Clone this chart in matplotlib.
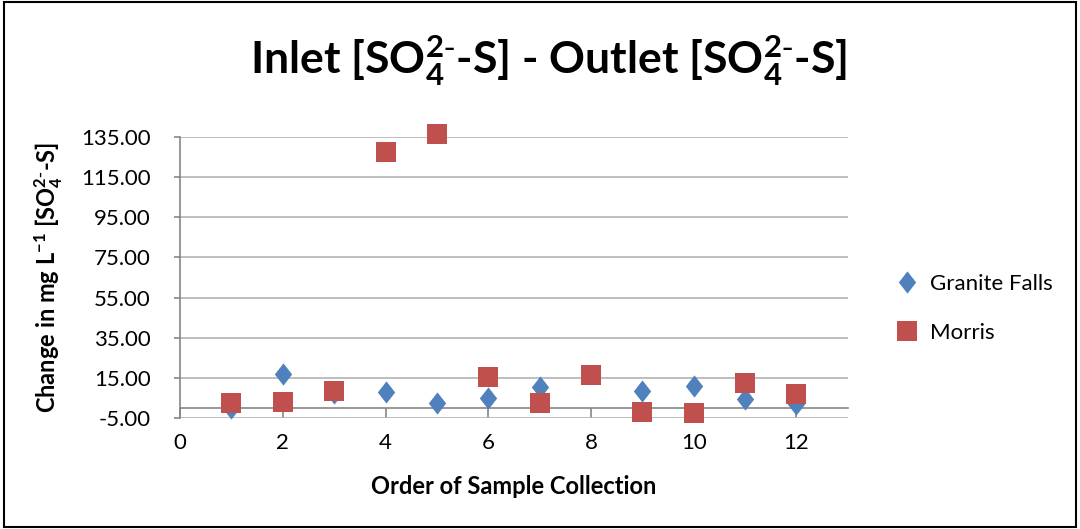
import numpy as np
import matplotlib.pyplot as plt
from matplotlib.patches import Rectangle

plt.rcParams['font.family'] = ['Lato', 'DejaVu Sans']
plt.rcParams['mathtext.default'] = 'regular'

# --- дані: зміна концентрації по порядку відбору проб ---
order = np.arange(1, 13)
granite_falls = np.array([0.0, 17.0, 7.5, 8.0, 2.6, 4.8, 10.6, np.nan, 8.6, 11.1, 4.3, 2.0])
morris = np.array([2.3, 3.0, 8.6, 127.5, 136.5, 15.6, 2.3, 16.4, -2.2, -2.7, 12.6, 6.8])

y_ticks = np.arange(-5, 136, 20)
x_ticks = np.arange(0, 13, 2)

blue = '#4f81bd'
red = '#c0504d'
axis_gray = '#868686'
grid_gray = '#b3b3b3'

ion = r'SO$_4^{2\text{-}}$-S'

fig = plt.figure(figsize=(10.8, 5.29), dpi=100)
ax = fig.add_axes([0.1667, 0.2098, 0.785 - 0.1667, 0.741 - 0.2098])

# ромб трохи витягнутий по вертикалі
diamond = [(0, 1), (0.78, 0), (0, -1), (-0.78, 0), (0, 1)]

ax.plot(order, granite_falls, linestyle='none', marker=diamond, markersize=16,
        color=blue, markeredgewidth=0, label='Granite Falls', clip_on=False, zorder=3)
ax.plot(order, morris, linestyle='none', marker='s', markersize=15,
        color=red, markeredgewidth=0, label='Morris', clip_on=False, zorder=4)

ax.set_xlim(0, 13)
ax.set_ylim(-5, 135)
ax.set_xticks(x_ticks)
ax.set_yticks(y_ticks)
ax.set_yticklabels([f'{v:.2f}' for v in y_ticks])

ax.grid(axis='y', color=grid_gray, linewidth=1.2)
ax.set_axisbelow(True)

for s in ['top', 'right']:
    ax.spines[s].set_visible(False)
ax.spines['bottom'].set_position(('data', 0))
ax.spines['bottom'].set_color(axis_gray)
ax.spines['left'].set_color(axis_gray)
ax.spines['bottom'].set_linewidth(1.2)
ax.spines['left'].set_linewidth(1.2)

ax.tick_params(axis='x', direction='out', length=7, width=1.2, color=axis_gray,
               labelsize=16, pad=11)
ax.tick_params(axis='y', direction='out', length=4, width=1.2, color=axis_gray,
               labelsize=16, pad=17)

ax.set_xlabel('Order of Sample Collection', fontsize=17, fontweight='bold', labelpad=16)
ax.set_ylabel('Change in mg L$^{-1}$ [' + ion + ']', fontsize=17,
              fontweight='bold', labelpad=12)

fig.text(0.508, 0.885, 'Inlet [' + ion + '] - Outlet [' + ion + ']',
         fontsize=32, fontweight='bold', ha='center', va='center')

fig.legend(loc='center left', bbox_to_anchor=(0.832, 0.417), frameon=False,
           fontsize=16, handlelength=0.8, handletextpad=0.6, labelspacing=1.3,
           borderaxespad=0, borderpad=0)

# рамка навколо всієї діаграми
fig.patches.append(Rectangle((0.004, 0.004), 0.992, 0.992, transform=fig.transFigure,
                             fill=False, edgecolor='black', linewidth=1.5))

fig.savefig('out.png', dpi=100)
